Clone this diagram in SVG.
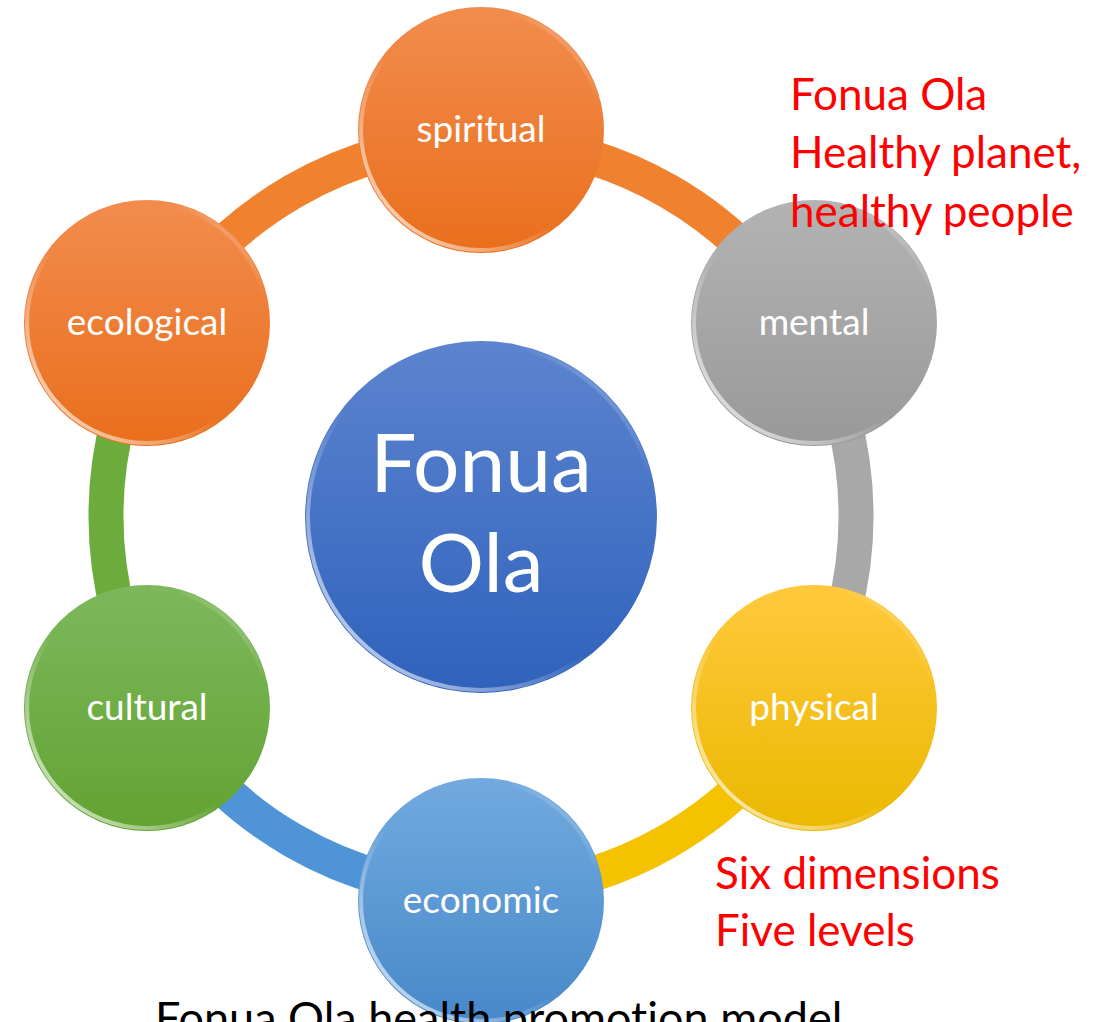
<svg xmlns="http://www.w3.org/2000/svg" width="1107" height="1022" viewBox="0 0 1107 1022">
<style>
text{font-variant-ligatures:none}
.lbl{font-family:Lato,"Liberation Sans",sans-serif;font-size:37px;fill:#fff;text-anchor:middle}
.big{font-family:Lato,"Liberation Sans",sans-serif;font-size:82px;fill:#fff;text-anchor:middle}
.red{font-family:Lato,"Liberation Sans",sans-serif;font-size:44px;fill:#ff0000}
.cap{font-family:Lato,"Liberation Sans",sans-serif;font-size:45px;fill:#000}
.arc{fill:none;stroke-width:35}
.rim{fill:none;stroke:url(#rim);stroke-width:4}
</style>
<defs>
<linearGradient id="gOr" x1="0" y1="0" x2="0" y2="1"><stop offset="0" stop-color="#F28C4E"/><stop offset="1" stop-color="#E96F1C"/></linearGradient>
<linearGradient id="gGr" x1="0" y1="0" x2="0" y2="1"><stop offset="0" stop-color="#B3B3B3"/><stop offset="1" stop-color="#999999"/></linearGradient>
<linearGradient id="gYe" x1="0" y1="0" x2="0" y2="1"><stop offset="0" stop-color="#FFC93C"/><stop offset="1" stop-color="#EBB800"/></linearGradient>
<linearGradient id="gBl" x1="0" y1="0" x2="0" y2="1"><stop offset="0" stop-color="#72AADF"/><stop offset="1" stop-color="#4788C9"/></linearGradient>
<linearGradient id="gGn" x1="0" y1="0" x2="0" y2="1"><stop offset="0" stop-color="#7DB85C"/><stop offset="1" stop-color="#62A332"/></linearGradient>
<linearGradient id="gCe" x1="0" y1="0" x2="0" y2="1"><stop offset="0" stop-color="#5C84CF"/><stop offset="1" stop-color="#2F62BC"/></linearGradient>
<linearGradient id="rim" x1="0" y1="1" x2="1" y2="0"><stop offset="0" stop-color="#fff" stop-opacity="0.9"/><stop offset="0.45" stop-color="#fff" stop-opacity="0"/><stop offset="0.8" stop-color="#fff" stop-opacity="0"/><stop offset="1" stop-color="#fff" stop-opacity="0.6"/></linearGradient>
</defs>
<rect width="1107" height="1022" fill="#fff"/>
<g id="connectors">
<path class="arc" stroke="#F0822F" d="M481,141 A375,375 0 0 1 805.8,328.5"/>
<path class="arc" stroke="#A8A8A8" d="M805.8,328.5 A375,375 0 0 1 805.8,703.5"/>
<path class="arc" stroke="#F5C200" d="M805.8,703.5 A375,375 0 0 1 481,891"/>
<path class="arc" stroke="#4F94D6" d="M481,891 A375,375 0 0 1 156.2,703.5"/>
<path class="arc" stroke="#6CAC3C" d="M156.2,703.5 A375,375 0 0 1 156.2,328.5"/>
<path class="arc" stroke="#F0822F" d="M156.2,328.5 A375,375 0 0 1 481,141"/>
</g>
<g id="center">
<circle cx="481" cy="517" r="176" fill="url(#gCe)"/>
<circle class="rim" cx="481" cy="517" r="173"/>
<text class="big" x="481" y="492">Fonua</text>
<text class="big" x="481" y="592">Ola</text>
</g>
<g id="spiritual">
<circle cx="481" cy="130" r="123" fill="url(#gOr)"/>
<circle class="rim" cx="481" cy="130" r="120"/>
<text class="lbl" x="481" y="142">spiritual</text>
</g>
<g id="mental">
<circle cx="814" cy="323" r="123" fill="url(#gGr)"/>
<circle class="rim" cx="814" cy="323" r="120"/>
<text class="lbl" x="814" y="335">mental</text>
</g>
<g id="physical">
<circle cx="814" cy="708" r="123" fill="url(#gYe)"/>
<circle class="rim" cx="814" cy="708" r="120"/>
<text class="lbl" x="814" y="720">physical</text>
</g>
<g id="economic">
<circle cx="481" cy="901" r="123" fill="url(#gBl)"/>
<circle class="rim" cx="481" cy="901" r="120"/>
<text class="lbl" x="481" y="913">economic</text>
</g>
<g id="cultural">
<circle cx="147" cy="708" r="123" fill="url(#gGn)"/>
<circle class="rim" cx="147" cy="708" r="120"/>
<text class="lbl" x="147" y="720">cultural</text>
</g>
<g id="ecological">
<circle cx="147" cy="323" r="123" fill="url(#gOr)"/>
<circle class="rim" cx="147" cy="323" r="120"/>
<text class="lbl" x="147" y="335">ecological</text>
</g>
<g id="notes">
<text class="red" x="790" y="110">Fonua Ola</text>
<text class="red" x="790" y="168">Healthy planet,</text>
<text class="red" x="790" y="227">healthy people</text>
<text class="red" x="715" y="889">Six dimensions</text>
<text class="red" x="715" y="946">Five levels</text>
<text class="cap" x="155" y="1034">Fonua Ola health promotion model</text>
</g>
</svg>
